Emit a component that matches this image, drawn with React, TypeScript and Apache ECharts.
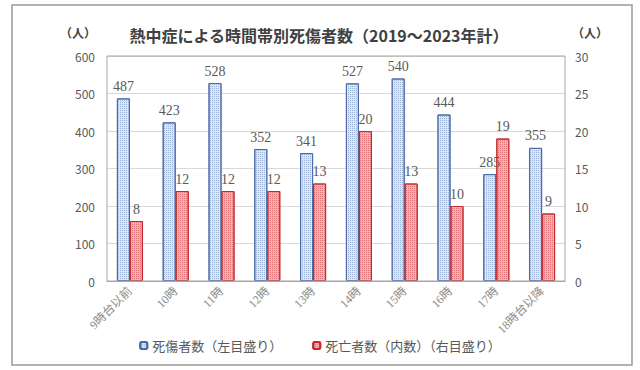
import React, { useEffect, useRef } from "react";
import * as echarts from "echarts";

const categories = ["9時台以前", "10時", "11時", "12時", "13時", "14時", "15時", "16時", "17時", "18時台以降"];
const casualties = [487, 423, 528, 352, 341, 527, 540, 444, 285, 355];
const deaths = [8, 12, 12, 12, 13, 20, 13, 10, 19, 9];
const leftTicks = { min: 0, max: 600, interval: 100 };
const rightTicks = { min: 0, max: 30, interval: 5 };
const titleText = "熱中症による時間帯別死傷者数（2019～2023年計）";
const seriesNames = ["死傷者数（左目盛り）", "死亡者数（内数）（右目盛り）"];

const SANS = "'Noto Sans CJK JP', 'Noto Sans', sans-serif";
const SERIF = "'Liberation Serif', 'DejaVu Serif', 'Noto Sans CJK JP', serif";

export default function App() {
  const ref = useRef<HTMLDivElement>(null);
  useEffect(() => {
    if (!ref.current) return;
    const chart = echarts.init(ref.current, null, { renderer: "svg" });
    chart.setOption({
      animation: false,
      backgroundColor: "#ffffff",
      graphic: [
        {
          type: "rect",
          shape: { x: 12, y: 5, width: 620, height: 360 },
          style: { fill: "none", stroke: "#9a9a9a", lineWidth: 1.5 },
          z: -10,
        },
        {
          type: "rect",
          shape: { x: 107, y: 56, width: 458, height: 225 },
          style: { fill: "none", stroke: "#a6a6a6", lineWidth: 1 },
          z: 5,
        },
        {
          type: "text",
          left: 60,
          top: 26,
          style: { text: "（人）", fill: "#404040", font: `bold 12px ${SANS}` },
        },
        {
          type: "text",
          left: 572,
          top: 26,
          style: { text: "（人）", fill: "#404040", font: `bold 12px ${SANS}` },
        },
      ],
      title: {
        text: titleText,
        left: 314,
        textAlign: "center",
        top: 22,
        textStyle: { fontFamily: SANS, fontSize: 16, fontWeight: "bold", color: "#404040" },
      },
      legend: {
        bottom: 13,
        left: "center",
        itemWidth: 7,
        itemHeight: 7,
        itemGap: 30,
        textStyle: { fontFamily: SANS, fontSize: 13, color: "#595959" },
        data: seriesNames,
      },
      grid: { left: 107, right: 75, top: 56, bottom: 89 },
      xAxis: {
        type: "category",
        data: categories,
        axisTick: { show: false },
        axisLine: { lineStyle: { color: "#a6a6a6" } },
        axisLabel: {
          rotate: 45,
          fontFamily: SERIF,
          fontSize: 12,
          color: "#8c8c8c",
          interval: 0,
          margin: 8,
        },
      },
      yAxis: [
        {
          type: "value",
          ...leftTicks,
          axisLine: { show: false },
          axisTick: { show: false },
          splitLine: { lineStyle: { color: "#d9d9d9" } },
          axisLabel: { fontFamily: SANS, fontSize: 12, color: "#595959", margin: 12 },
        },
        {
          type: "value",
          ...rightTicks,
          axisLine: { show: false },
          axisTick: { show: false },
          splitLine: { show: false },
          axisLabel: { fontFamily: SANS, fontSize: 12, color: "#595959", margin: 10 },
        },
      ],
      series: [
        {
          name: seriesNames[0],
          type: "bar",
          yAxisIndex: 0,
          data: casualties,
          barWidth: 13,
          barGap: "0%",
          itemStyle: {
            color: "#dce7f5",
            borderColor: "#4a6aa5",
            borderWidth: 1,
            decal: {
              symbol: "rect",
              symbolSize: 1,
              color: "#9db4d8",
              dashArrayX: [1, 1],
              dashArrayY: [1, 1],
            },
          },
          label: {
            show: true,
            position: "top",
            fontFamily: SERIF,
            fontSize: 14,
            color: "#595959",
            distance: 5,
          },
        },
        {
          name: seriesNames[1],
          type: "bar",
          yAxisIndex: 1,
          data: deaths,
          barWidth: 13,
          barGap: "0%",
          itemStyle: {
            color: "#f2b2b2",
            borderColor: "#c8282e",
            borderWidth: 1,
            decal: {
              symbol: "rect",
              symbolSize: 1,
              color: "#df7478",
              dashArrayX: [1, 1],
              dashArrayY: [1, 1],
            },
          },
          label: {
            show: true,
            position: "top",
            fontFamily: SERIF,
            fontSize: 14,
            color: "#595959",
            distance: 5,
          },
        },
      ],
    });
    return () => chart.dispose();
  }, []);
  return (
    <div
      ref={ref}
      style={{ position: "fixed", left: 0, top: 0, width: 640, height: 370 }}
    />
  );
}
